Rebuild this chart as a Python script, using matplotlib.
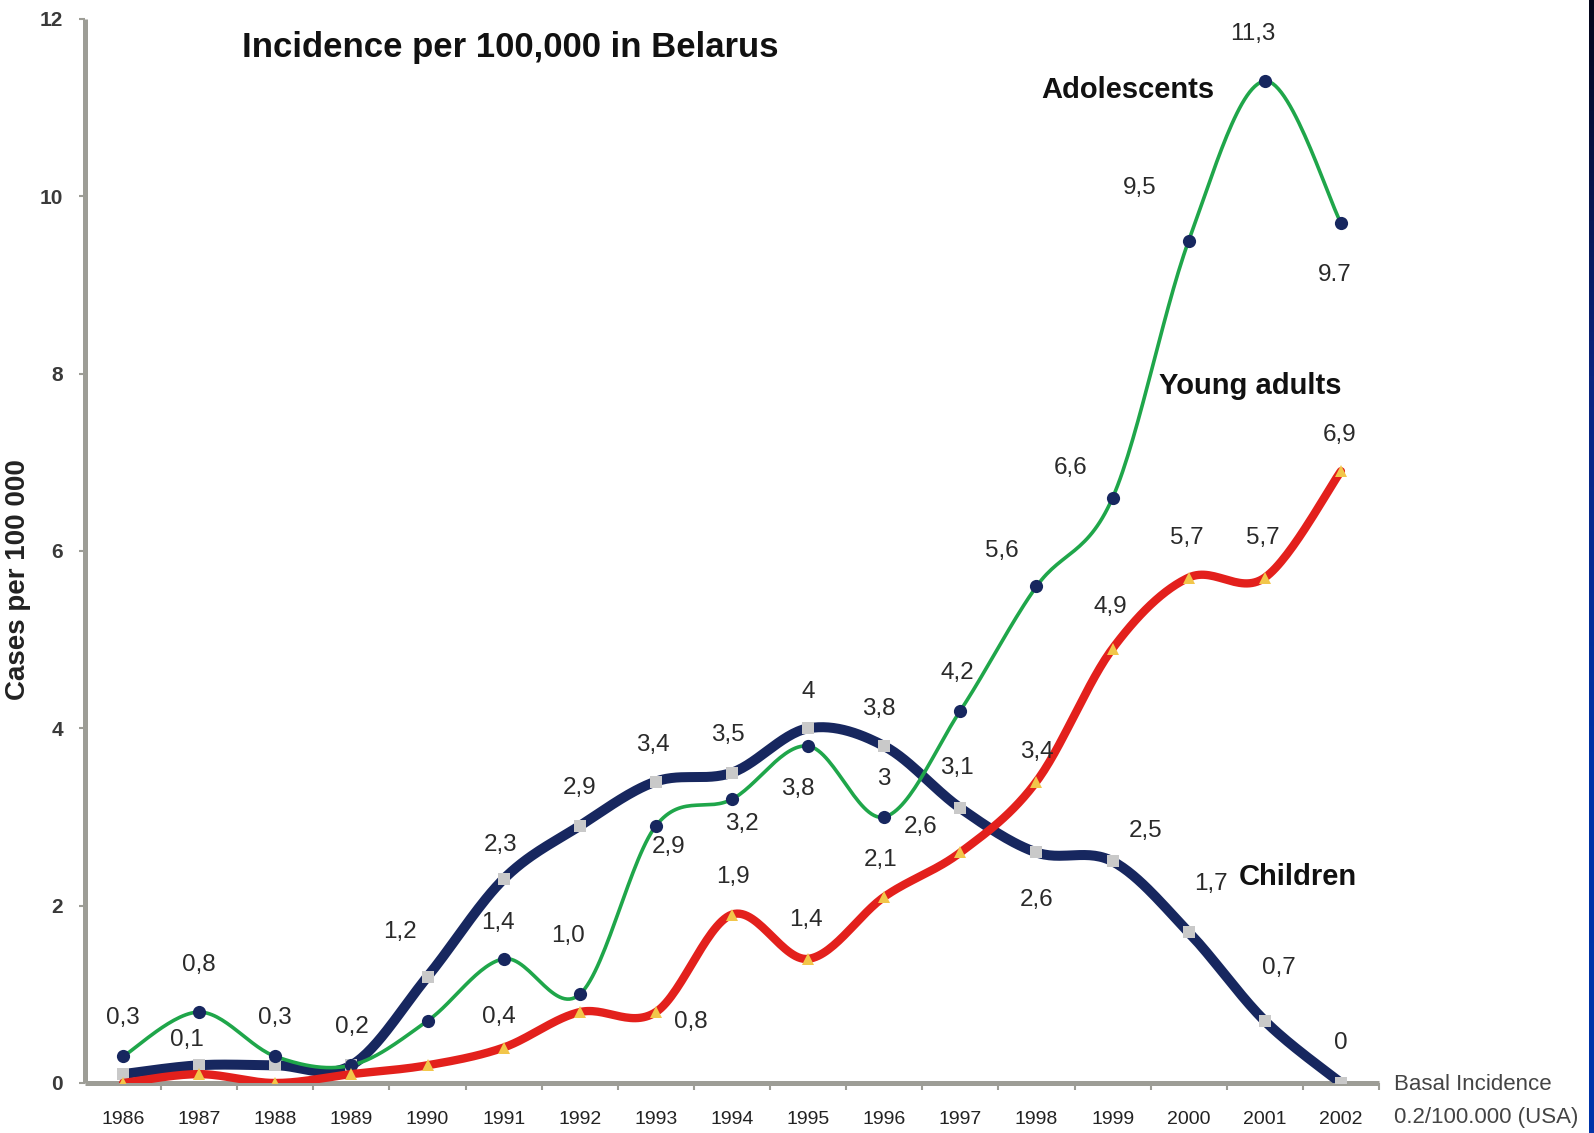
import numpy as np
import matplotlib.pyplot as plt
from matplotlib.colors import LinearSegmentedColormap

W, H = 1594, 1133

years = list(range(1986, 2003))
children = [0.1, 0.2, 0.2, 0.2, 1.2, 2.3, 2.9, 3.4, 3.5, 4.0, 3.8, 3.1, 2.6, 2.5, 1.7, 0.7, 0.0]
adolescents = [0.3, 0.8, 0.3, 0.2, 0.7, 1.4, 1.0, 2.9, 3.2, 3.8, 3.0, 4.2, 5.6, 6.6, 9.5, 11.3, 9.7]
young_adults = [0.0, 0.1, 0.0, 0.1, 0.2, 0.4, 0.8, 0.8, 1.9, 1.4, 2.1, 2.6, 3.4, 4.9, 5.7, 5.7, 6.9]

children_text = [None, None, None, None, "1,2", "2,3", "2,9", "3,4", "3,5", "4", "3,8",
                 "3,1", "2,6", "2,5", "1,7", "0,7", "0"]
adolescents_text = ["0,3", "0,8", "0,3", "0,2", None, "1,4", "1,0", "2,9", "3,2", "3,8", "3",
                    "4,2", "5,6", "6,6", "9,5", "11,3", "9.7"]
young_adults_text = [None, "0,1", None, None, None, "0,4", None, "0,8", "1,9", "1,4", "2,1",
                     "2,6", "3,4", "4,9", "5,7", "5,7", "6,9"]

# label offsets in pixels (dx, dy up) relative to the point
children_off = [None, None, None, None, (-28, 45), (-3, 34), (0, 38), (-3, 37), (-4, 38),
                (0, 36), (-5, 37), (-3, 40), (0, -48), (33, 30), (22, 48), (14, 53), (0, 40)]
adolescents_off = [(0, 38), (0, 47), (0, 38), (0, 38), None, (-6, 36), (-12, 58), (13, -21),
                   (10, -25), (-10, -43), (0, 38), (-3, 38), (-35, 35), (-42, 30), (-49, 53),
                   (-12, 47), (-6, -52)]
young_adults_off = [None, (-12, 34), None, None, None, (-5, 31), None, (35, -10), (1, 38),
                    (-2, 39), (-4, 37), (-40, 25), (0, 30), (-2, 42), (-2, 40), (-2, 40), (-1, 36)]

NAVY = "#17275f"
GREEN = "#1fa64a"
RED = "#e3201c"
YELLOW = "#f2c64a"
MARKER_GREY = "#c9c9c9"
AXIS_GREY = "#9d9d96"
LABEL = "#2a2a2a"

SANS = ["Liberation Sans", "DejaVu Sans"]


def smooth(xs, ys, steps=30):
    # Catmull-Rom style bezier through every point, like spreadsheet smoothed lines
    x = np.asarray(xs, float)
    y = np.asarray(ys, float)
    px = np.concatenate([[x[0]], x, [x[-1]]])
    py = np.concatenate([[y[0]], y, [y[-1]]])
    t = np.linspace(0, 1, steps, endpoint=False)[:, None]
    pieces = []
    for i in range(len(x) - 1):
        p0 = np.array([px[i], py[i]])
        p1 = np.array([px[i + 1], py[i + 1]])
        p2 = np.array([px[i + 2], py[i + 2]])
        p3 = np.array([px[i + 3], py[i + 3]])
        c1 = p1 + (p2 - p0) / 6.0
        c2 = p2 - (p3 - p1) / 6.0
        seg = ((1 - t) ** 3) * p1 + 3 * ((1 - t) ** 2) * t * c1 + 3 * (1 - t) * t ** 2 * c2 + t ** 3 * p2
        pieces.append(seg)
    pieces.append(np.array([[x[-1], y[-1]]]))
    pts = np.vstack(pieces)
    return pts[:, 0], pts[:, 1]


def fig_xy(x, y):
    return x / W, 1 - y / H


fig = plt.figure(figsize=(W / 100, H / 100), dpi=100)
fig.patch.set_facecolor("white")
ax = fig.add_axes([85 / W, 1 - 1083 / H, (1379 - 85) / W, (1083 - 19) / H])

series = [
    (children, NAVY, 7.2, "s", MARKER_GREY, 8.0, 3, children_text, children_off),
    (adolescents, GREEN, 2.6, "o", NAVY, 9.5, 4, adolescents_text, adolescents_off),
    (young_adults, RED, 6.0, "^", YELLOW, 9.0, 5, young_adults_text, young_adults_off),
]

for vals, lc, lw, mk, mc, ms, z, texts, offs in series:
    sx, sy = smooth(years, vals)
    ax.plot(sx, sy, color=lc, lw=lw, solid_capstyle="round", zorder=z)
    ax.plot(years, vals, ls="none", marker=mk, color=mc, ms=ms, mew=0, zorder=z + 0.5)
    for yr, v, txt, off in zip(years, vals, texts, offs):
        if txt is None:
            continue
        ax.annotate(txt, (yr, v), xytext=off, textcoords="offset pixels",
                    ha="center", va="center", fontsize=17.5, color=LABEL,
                    family=SANS, zorder=10)

ax.set_xlim(1985.5, 2002.5)
ax.set_ylim(0, 12)

for side in ("top", "right"):
    ax.spines[side].set_visible(False)
for side in ("left", "bottom"):
    ax.spines[side].set_color(AXIS_GREY)
    ax.spines[side].set_linewidth(3.6)
    ax.spines[side].set_capstyle("butt")

ax.set_yticks(range(0, 13, 2))
ax.set_yticklabels([str(v) for v in range(0, 13, 2)])
ax.set_xticks(years)
ax.set_xticklabels([str(y) for y in years])
ax.set_xticks(np.arange(1986.5, 2003.0, 1.0), minor=True)
ax.tick_params(axis="x", which="major", length=0, pad=20, labelsize=14, labelcolor="#222222")
ax.tick_params(axis="x", which="minor", length=5, width=1.5, color=AXIS_GREY, direction="out")
ax.tick_params(axis="y", which="major", length=4, width=1.5, color=AXIS_GREY, pad=12,
               labelsize=15, labelcolor="#3a3a3a")
for lab in ax.get_xticklabels():
    lab.set_family(SANS)
for lab in ax.get_yticklabels():
    lab.set_family(SANS)
    lab.set_fontweight("bold")

# titles and series names
x, y = fig_xy(510, 47)
fig.text(x, y, "Incidence per 100,000 in Belarus", ha="center", va="center",
         fontsize=25, fontweight="bold", family=SANS, color="#111111")
for name, cx, cy in [("Adolescents", 1128, 90), ("Young adults", 1250, 386), ("Children", 1298, 877)]:
    x, y = fig_xy(cx, cy)
    fig.text(x, y, name, ha="center", va="center", fontsize=21, fontweight="bold",
             family=SANS, color="#111111")

x, y = fig_xy(18, 580)
fig.text(x, y, "Cases per 100 000", rotation=90, ha="center", va="center",
         fontsize=20, fontweight="bold", family=SANS, color="#222222")

x, y = fig_xy(1394, 1085)
fig.text(x, y, "Basal Incidence", ha="left", va="center", fontsize=16, family=SANS, color="#444444")
x, y = fig_xy(1394, 1118)
fig.text(x, y, "0.2/100.000 (USA)", ha="left", va="center", fontsize=16, family=SANS, color="#444444")

# blue edge strip on the right
bar = fig.add_axes([1589 / W, 0, 5 / W, 1])
grad = np.linspace(0, 1, 256)[:, None]
cmap = LinearSegmentedColormap.from_list("edge", ["#04061a", "#0a2580", "#0033a6", "#0035aa"])
bar.imshow(grad, aspect="auto", cmap=cmap, extent=(0, 1, 0, 1), origin="upper")
bar.set_axis_off()

fig.savefig("out.png", dpi=100, facecolor="white")
